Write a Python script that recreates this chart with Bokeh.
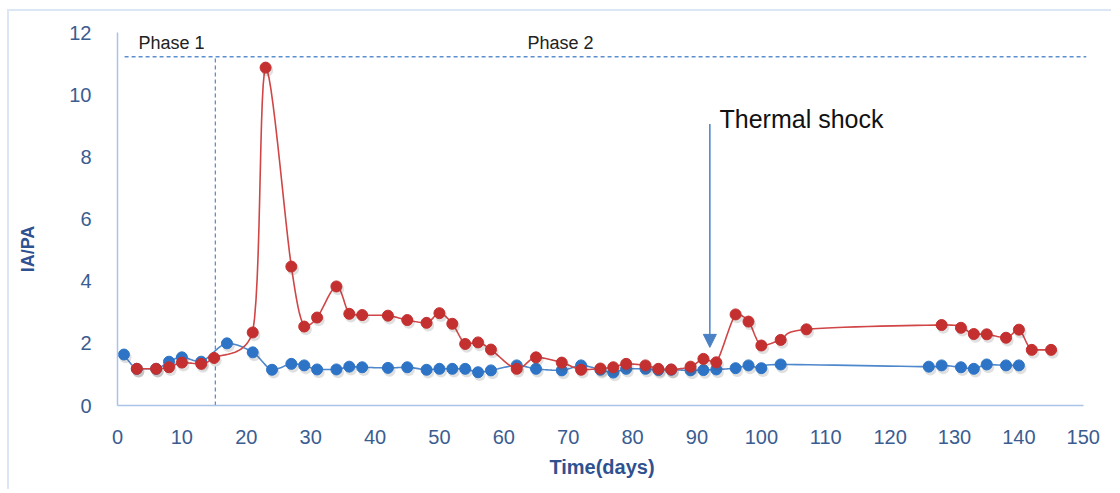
import numpy as np
from bokeh.plotting import figure
from bokeh.models import Label, Arrow, NormalHead, FixedTicker, Range1d
from bokeh.embed import file_html
from bokeh.resources import INLINE

# ---- data ----
blue_days = [1, 3, 6, 8, 10, 13, 17, 21, 24, 27, 29, 31, 34, 36, 38, 42, 45, 48, 50, 52,
             54, 56, 58, 62, 65, 69, 72, 75, 77, 79, 82, 84, 86, 89, 91, 93, 96, 98, 100,
             103, 126, 128, 131, 133, 135, 138, 140]
blue_vals = [1.64, 1.18, 1.18, 1.41, 1.55, 1.41, 2.00, 1.71, 1.15, 1.34, 1.29, 1.16, 1.16,
             1.25, 1.23, 1.21, 1.23, 1.15, 1.18, 1.18, 1.18, 1.07, 1.13, 1.29, 1.18, 1.13,
             1.29, 1.15, 1.06, 1.18, 1.18, 1.14, 1.15, 1.13, 1.14, 1.16, 1.20, 1.29, 1.20,
             1.32, 1.25, 1.29, 1.23, 1.18, 1.32, 1.29, 1.29]

red_days = [3, 6, 8, 10, 13, 15, 21, 23, 27, 29, 31, 34, 36, 38, 42, 45, 48, 50, 52, 54,
            56, 58, 62, 65, 69, 72, 75, 77, 79, 82, 84, 86, 89, 91, 93, 96, 98, 100, 103,
            107, 128, 131, 133, 135, 138, 140, 142, 145]
red_vals = [1.18, 1.18, 1.23, 1.38, 1.34, 1.53, 2.35, 10.87, 4.47, 2.54, 2.83, 3.83, 2.95,
            2.91, 2.89, 2.75, 2.66, 2.97, 2.63, 1.98, 2.03, 1.80, 1.18, 1.55, 1.38, 1.15,
            1.19, 1.23, 1.34, 1.29, 1.18, 1.16, 1.25, 1.50, 1.39, 2.93, 2.70, 1.93, 2.11,
            2.45, 2.59, 2.50, 2.30, 2.29, 2.18, 2.44, 1.79, 1.79]

x_ticks = [0, 10, 20, 30, 40, 50, 60, 70, 80, 90, 100, 110, 120, 130, 140, 150]
y_ticks = [0, 2, 4, 6, 8, 10, 12]

phase_level = 11.22      # horizontal dashed line
phase_split = 15.2       # day separating phase 1 and 2
shock_day = 92.0         # thermal shock arrow


def smooth(xs, ys, n=14):
    """Smoothed polyline (cubic Bezier through the points, no overshoot)."""
    xs = np.asarray(xs, float)
    ys = np.asarray(ys, float)
    P = np.column_stack([xs, ys])
    out = [P[0]]
    t = np.linspace(0, 1, n)[1:]
    for i in range(len(P) - 1):
        p0 = P[i - 1] if i > 0 else P[i]
        p1, p2 = P[i], P[i + 1]
        p3 = P[i + 2] if i + 2 < len(P) else P[i + 1]
        c1 = p1 + (p2 - p0) / 6.0
        c2 = p2 - (p3 - p1) / 6.0
        lo, hi = min(p1[1], p2[1]), max(p1[1], p2[1])
        c1[1] = np.clip(c1[1], lo, hi)
        c2[1] = np.clip(c2[1], lo, hi)
        for tt in t:
            b = ((1 - tt) ** 3) * p1 + 3 * ((1 - tt) ** 2) * tt * c1 + 3 * (1 - tt) * tt ** 2 * c2 + tt ** 3 * p2
            out.append(b)
    out = np.array(out)
    return out[:, 0], out[:, 1]


FONT = "Liberation Sans"
BLUE = "#2E74C6"
BLUE_LINE = "#4D87CC"
RED = "#C42F2F"
RED_LINE = "#D04545"
AXIS_TXT = "#3A5D91"
AXIS_LBL = "#2F5190"
AXIS_LINE = "#A9C4E6"
DASH = "#5B8FD0"

p = figure(width=1104, height=480, output_backend="svg", toolbar_location=None,
           x_range=Range1d(0, 150.5), y_range=Range1d(0, 12),
           min_border_left=108, min_border_right=27, min_border_top=21, min_border_bottom=86)
p.styles = {"border-top": "2px solid #DCE7F6", "border-left": "2px solid #DCE7F6",
            "margin-left": "7px", "margin-top": "9px"}
p.background_fill_color = "white"
p.border_fill_color = "white"
p.outline_line_color = None
p.grid.grid_line_color = None

for ax in (p.xaxis[0], p.yaxis[0]):
    ax.axis_line_color = AXIS_LINE
    ax.axis_line_width = 1.5
    ax.major_tick_line_color = None
    ax.minor_tick_line_color = None
    ax.major_label_text_font = FONT
    ax.major_label_text_font_size = "20px"
    ax.major_label_text_color = AXIS_TXT
    ax.axis_label_text_font = FONT
    ax.axis_label_text_font_style = "bold"
    ax.axis_label_text_color = AXIS_LBL
p.xaxis[0].ticker = FixedTicker(ticks=x_ticks)
p.yaxis[0].ticker = FixedTicker(ticks=y_ticks)
p.xaxis[0].bounds = (0, 150)
p.xaxis[0].major_label_standoff = 18
p.yaxis[0].major_label_standoff = 20
p.xaxis[0].axis_label = "Time(days)"
p.xaxis[0].axis_label_text_font_size = "20px"
p.xaxis[0].axis_label_standoff = 9
p.yaxis[0].axis_label = "IA/PA" + "\u00a0" * 12
p.yaxis[0].axis_label_text_font_size = "18px"
p.yaxis[0].axis_label_standoff = 28

# phase separators
p.line(x=[1.1, 150.5], y=[phase_level, phase_level], line_color=DASH, line_width=1.3,
       line_dash="4 3")
p.line(x=[phase_split, phase_split], y=[0, phase_level], line_color=DASH, line_width=1.3,
       line_dash="4 3")

# lines (smoothed)
bx, by = smooth(blue_days, blue_vals)
rx, ry = smooth(red_days, red_vals)
p.line(bx, by, line_color=BLUE_LINE, line_width=1.6)

# marker shadows
bd = np.asarray(blue_days, float)
bv = np.asarray(blue_vals, float)
rd = np.asarray(red_days, float)
rv = np.asarray(red_vals, float)
p.scatter(bd + 0.25, bv - 0.09, size=12, marker="circle", fill_color="#555555",
          fill_alpha=0.18, line_color=None)
p.scatter(bd, bv, size=11, marker="circle", fill_color=BLUE, line_color=BLUE)

p.line(rx, ry, line_color=RED_LINE, line_width=1.6)
p.scatter(rd + 0.25, rv - 0.09, size=12, marker="circle", fill_color="#555555",
          fill_alpha=0.18, line_color=None)
p.scatter(rd, rv, size=11, marker="circle", fill_color=RED, line_color=RED)

# annotations
p.add_layout(Label(x=8.4, y=11.65, text="Phase 1", text_font=FONT,
                   text_font_size="18px", text_color="#222222",
                   text_align="center", text_baseline="middle"))
p.add_layout(Label(x=68.8, y=11.65, text="Phase 2", text_font=FONT,
                   text_font_size="18px", text_color="#222222",
                   text_align="center", text_baseline="middle"))
p.add_layout(Label(x=93.5, y=9.23, text="Thermal shock", text_font=FONT,
                   text_font_size="25px", text_color="#111111",
                   text_align="left", text_baseline="middle"))
p.add_layout(Arrow(x_start=shock_day, y_start=9.06, x_end=shock_day, y_end=1.87,
                   line_color="#4A80C4", line_width=1.5,
                   end=NormalHead(size=13, fill_color="#4A80C4", line_color="#4A80C4")))

open("out.html", "w").write(file_html(p, INLINE))
